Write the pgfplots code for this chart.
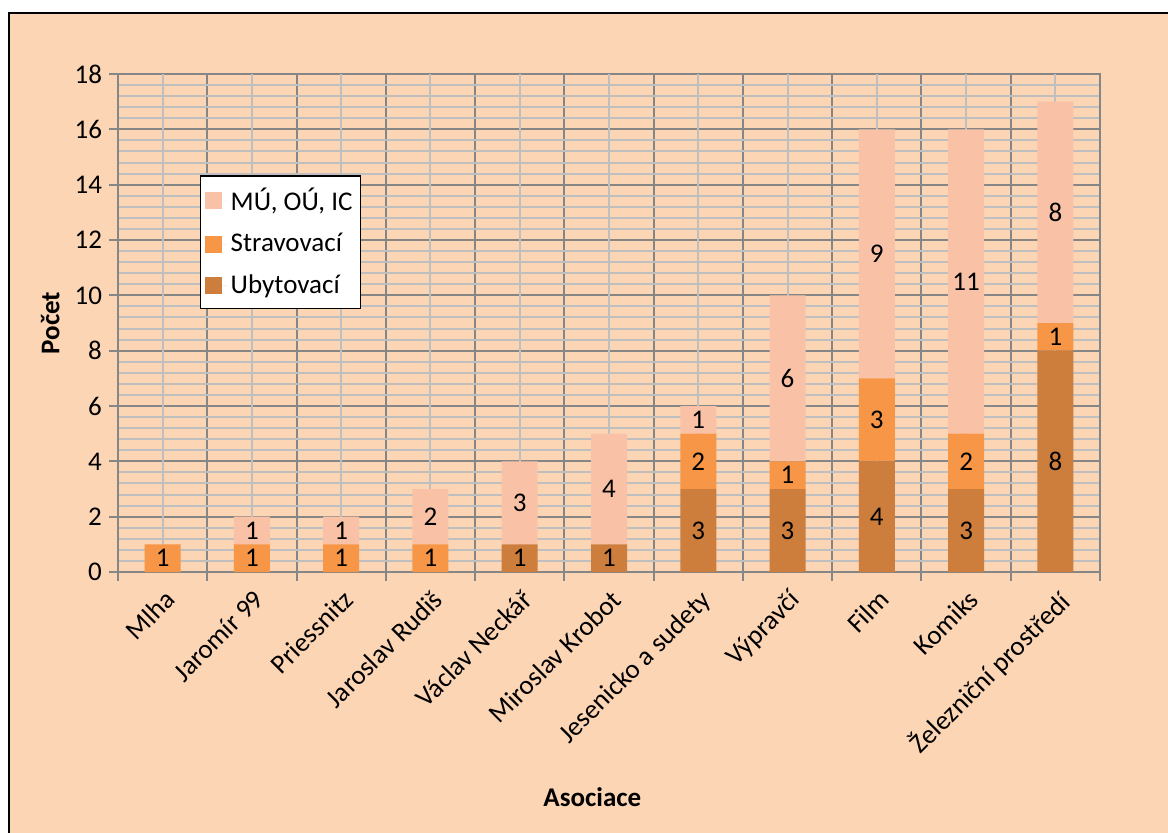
\documentclass[border=0pt]{standalone}
\usepackage{pgfplots}
\pgfplotsset{compat=1.18}
\usepackage{pgfplotstable}
\usepackage{fontspec}
\setmainfont{Carlito}
\definecolor{bgc}{RGB}{252,213,181}
\definecolor{cU}{RGB}{205,125,60}
\definecolor{cS}{RGB}{247,150,70}
\definecolor{cM}{RGB}{249,194,166}
\definecolor{gmaj}{RGB}{134,134,134}
\definecolor{gmin}{RGB}{191,191,191}
\newcommand{\lbl}{\fontsize{13.5}{16}\selectfont}
\pgfplotstableread{
x U S M
0 0 1 0
1 0 1 1
2 0 1 1
3 0 1 2
4 1 0 3
5 1 0 4
6 3 2 1
7 3 1 6
8 4 3 9
9 3 2 11
10 8 1 8
}\datatable
\pgfplotsset{
  segnodes/.style={
    point meta=explicit,
    nodes near coords={\pgfmathfloatifflags{\pgfplotspointmeta}{0}{}{\pgfmathprintnumber{\pgfplotspointmeta}}},
    every node near coord/.append style={anchor=center, font=\lbl, text=black},
  }
}
\begin{document}
\begin{tikzpicture}
\useasboundingbox (0pt,0pt) rectangle (584pt,416pt);
\clip (0pt,0pt) rectangle (584pt,416pt);
\fill[white] (0pt,0pt) rectangle (584pt,416pt);
\filldraw[fill=bgc, draw=black, line width=1pt] (4.5pt,-10pt) rectangle (600pt,409.5pt);
\begin{axis}[
  at={(59pt,130pt)}, anchor=south west,
  scale only axis, width=491pt, height=249pt,
  ybar stacked, bar width=18pt,
  xmin=-0.5, xmax=10.5, ymin=0, ymax=18,
  /pgf/number format/assume math mode=true,
  tick label style={font=\lbl},
  axis line style={draw=gmaj, line width=1pt},
  tick align=outside, tick pos=left,
  major tick length=4.5pt,
  tick style={draw=gmaj, line width=1pt},
  minor tick length=0pt,
  xtick={-0.5,0.5,...,10.5},
  xticklabels={,,,,,,,,,,,,},
  extra x ticks={0,...,10},
  extra x tick labels={Mlha, Jaromír 99, Priessnitz, Jaroslav Rudiš, Václav Neckář, Miroslav Krobot, Jesenicko a sudety, Výpravčí, Film, Komiks, Železniční prostředí},
  extra x tick style={major tick length=0pt, major grid style={draw=gmin, line width=1pt},
     xticklabel style={rotate=45, anchor=north east, font=\lbl, xshift=-2pt, yshift=-2.5pt}},
  ytick={0,2,...,18},
  minor y tick num=4,
  xmajorgrids, ymajorgrids, yminorgrids,
  major grid style={draw=gmaj, line width=1pt},
  minor grid style={draw=gmin, line width=1pt},
  xlabel={Asociace}, ylabel={Počet},
  xlabel style={at={(axis description cs:0.483,-0.452)}, anchor=center, font=\lbl\bfseries},
  ylabel style={at={(axis description cs:-0.069,0.5)}, anchor=center, font=\lbl\bfseries},
  legend cell align=left,
  legend style={at={(0.0835,0.797)}, anchor=north west, draw=black, line width=0.75pt, fill=white,
     font=\lbl, row sep=6pt, inner xsep=2pt, inner ysep=4pt},
  legend image code/.code={\fill[#1] (0pt,-4.25pt) rectangle (8.5pt,4.25pt); \path (0pt,0pt) -- (11pt,0pt);},
  reverse legend,
]
\addplot[fill=cU, draw=none, segnodes]
  table[x=x, y=U, meta=U] {\datatable};
\addlegendentry{Ubytovací}
\addplot[fill=cS, draw=none, segnodes]
  table[x=x, y=S, meta=S] {\datatable};
\addlegendentry{Stravovací}
\addplot[fill=cM, draw=none, segnodes]
  table[x=x, y=M, meta=M] {\datatable};
\addlegendentry{MÚ, OÚ, IC}
\end{axis}
\end{tikzpicture}
\end{document}
